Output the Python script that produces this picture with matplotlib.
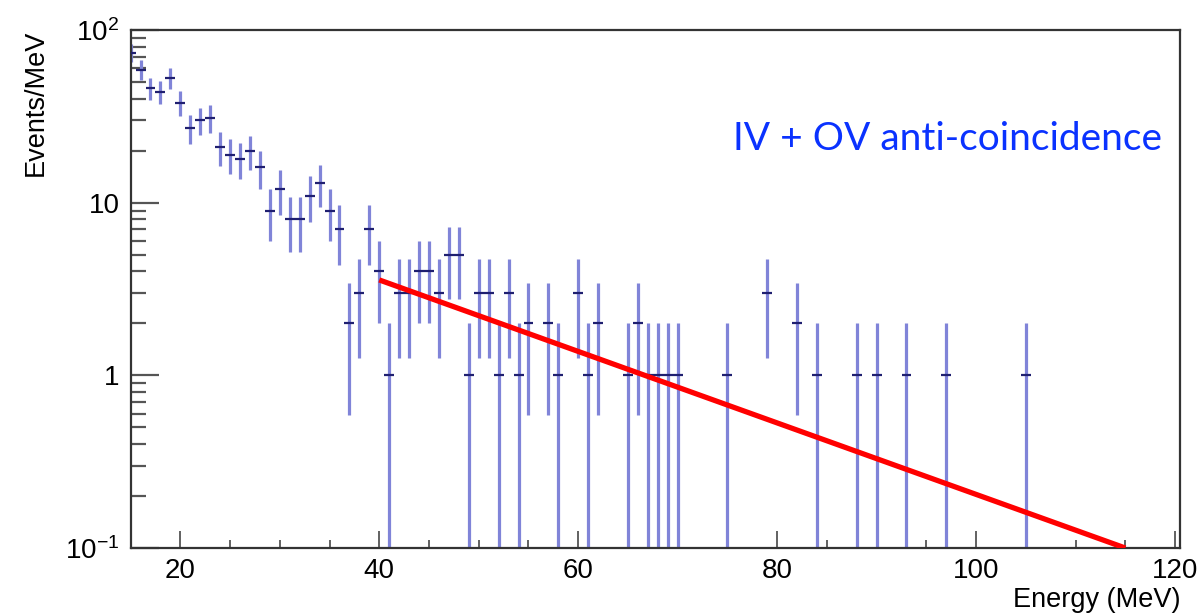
import numpy as np
import matplotlib
matplotlib.use("Agg")
import matplotlib.pyplot as plt
from matplotlib.ticker import FixedLocator, FixedFormatter, MultipleLocator

plt.rcParams['font.family'] = ['Liberation Sans', 'DejaVu Sans']
plt.rcParams['mathtext.fontset'] = 'custom'
plt.rcParams['mathtext.rm'] = 'Liberation Sans'
plt.rcParams['mathtext.it'] = 'Liberation Sans:italic'

# bin centres (MeV) of non-empty 1 MeV bins and their counts
energy = [15, 16, 17, 18, 19, 20, 21, 22, 23, 24, 25, 26, 27, 28, 29, 30,
          31, 32, 33, 34, 35, 36, 37, 38, 39, 40, 41, 42, 43, 44, 45, 46,
          47, 48, 49, 50, 51, 52, 53, 54, 55, 57, 58, 60, 61, 62, 65, 66,
          67, 68, 69, 70, 75, 79, 82, 84, 88, 90, 93, 97, 105]
counts = [74, 59, 46, 44, 53, 38, 27, 30, 31, 21, 19, 18, 20, 16, 9, 12,
          8, 8, 11, 13, 9, 7, 2, 3, 7, 4, 1, 3, 3, 4, 4, 3,
          5, 5, 1, 3, 3, 1, 3, 1, 2, 2, 1, 3, 1, 2, 1, 2,
          1, 1, 1, 1, 1, 3, 2, 1, 1, 1, 1, 1, 1]

# exponential fit, end points
fit_x = [40, 115]
fit_y = [3.57, 0.1]

y_ticks = [0.1, 1, 10, 100]
y_labels = ['$10^{-1}$', '1', '10', '$10^{2}$']

x = np.array(energy, dtype=float)
n = np.array(counts, dtype=float)
err = np.sqrt(n)
lower = n - np.maximum(n - err, 1e-3)

fig = plt.figure(figsize=(11.98, 6.13), dpi=100)
ax = fig.add_axes([0.109, 0.106, 0.876, 0.845])

# vertical error bars
ax.errorbar(x, n, yerr=[lower, err], fmt='none', ecolor='#8084d8',
            elinewidth=2.3, capsize=0, zorder=2)
# horizontal bin-width marks
ax.errorbar(x, n, xerr=0.5, fmt='none', ecolor='#1f1f70',
            elinewidth=1.6, capsize=0, zorder=3)

ax.plot(fit_x, fit_y, color='#ff0000', lw=3.8, solid_capstyle='butt', zorder=4)

ax.set_yscale('log')
ax.set_xlim(15, 120.5)
ax.set_ylim(0.1, 100)

ax.yaxis.set_major_locator(FixedLocator(y_ticks))
ax.yaxis.set_major_formatter(FixedFormatter(y_labels))
ax.xaxis.set_major_locator(MultipleLocator(20))
ax.xaxis.set_minor_locator(MultipleLocator(5))

for side in ['left', 'bottom', 'top', 'right']:
    ax.spines[side].set_linewidth(1.6)
    ax.spines[side].set_color('#333333')

ax.tick_params(axis='both', which='both', direction='in', colors='#555555',
               labelcolor='black', labelsize=20)
ax.tick_params(axis='y', which='major', length=20, width=1.6, pad=8)
ax.tick_params(axis='y', which='minor', length=11, width=1.6)
ax.tick_params(axis='x', which='major', length=12, width=1.3, pad=7)
ax.tick_params(axis='x', which='minor', length=6, width=1.3)

ax.set_xlabel('Energy (MeV)', fontsize=19.5, loc='right', labelpad=2)
ax.set_ylabel('Events/MeV', fontsize=19.5, loc='top', labelpad=12)

ax.text(0.983, 0.768, 'IV + OV anti-coincidence', transform=ax.transAxes,
        ha='right', va='baseline', color='#0a32ff', fontsize=28,
        family=['Lato', 'DejaVu Sans'])

fig.savefig('out.png', dpi=100)
